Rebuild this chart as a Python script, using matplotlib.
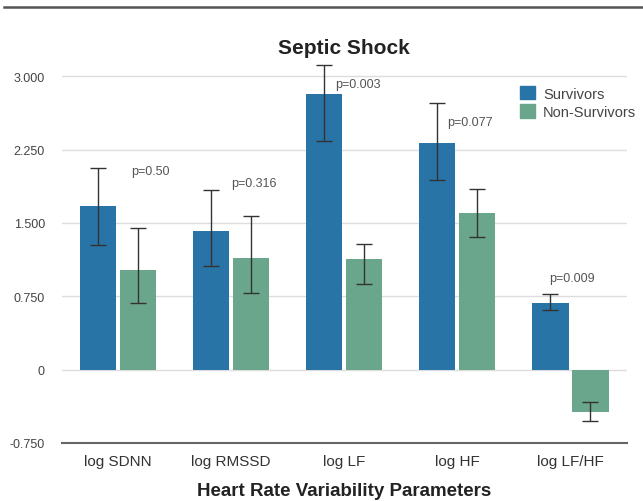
import matplotlib
matplotlib.use("Agg")
import matplotlib.pyplot as plt
import numpy as np
from matplotlib.lines import Line2D
from matplotlib.patches import Patch

plt.rcParams['font.family'] = ['Liberation Sans', 'DejaVu Sans']

# values
params = ["log SDNN", "log RMSSD", "log LF", "log HF", "log LF/HF"]
surv = [1.67, 1.42, 2.82, 2.32, 0.68]
surv_lo = [1.27, 1.06, 2.34, 1.94, 0.61]
surv_hi = [2.06, 1.84, 3.12, 2.73, 0.77]
nonsurv = [1.02, 1.14, 1.13, 1.60, -0.43]
nonsurv_lo = [0.68, 0.78, 0.88, 1.36, -0.52]
nonsurv_hi = [1.45, 1.57, 1.29, 1.85, -0.33]
pvals = ["p=0.50", "p=0.316", "p=0.003", "p=0.077", "p=0.009"]
yticks = [-0.75, 0, 0.75, 1.5, 2.25, 3.0]
ytick_labels = ["-0.750", "0", "0.750", "1.500", "2.250", "3.000"]

# label placement (x offset from group centre, y in data units)
p_dx = [0.12, 0.0, -0.08, -0.09, -0.19]
p_y = [2.03, 1.91, 2.92, 2.53, 0.94]

blue = "#2874a6"
green = "#6aa68b"

fig = plt.figure(figsize=(6.43, 5.02), dpi=100)
ax = fig.add_axes([61.5 / 643, 1 - 444 / 502, (627 - 61.5) / 643, 396 / 502])

x = np.arange(len(params))
w = 0.32
off = 0.177

surv = np.array(surv)
nonsurv = np.array(nonsurv)
s_err = [surv - np.array(surv_lo), np.array(surv_hi) - surv]
n_err = [nonsurv - np.array(nonsurv_lo), np.array(nonsurv_hi) - nonsurv]

ax.bar(x - off, surv, w, color=blue, zorder=2)
ax.bar(x + off, nonsurv, w, color=green, zorder=2)
ekw = dict(fmt="none", ecolor="#333333", elinewidth=1.0, capsize=5.5, capthick=1.0, zorder=3)
ax.errorbar(x - off, surv, yerr=s_err, **ekw)
ax.errorbar(x + off, nonsurv, yerr=n_err, **ekw)

for i, p in enumerate(pvals):
    ax.text(x[i] + p_dx[i], p_y[i], p, ha="left", va="center", fontsize=9, color="#555555")

ax.set_xlim(-0.5, 4.5)
ax.set_ylim(-0.75, 3.3)
ax.set_yticks(yticks)
ax.set_yticklabels(ytick_labels)
ax.set_xticks(x)
ax.set_xticklabels(params)
ax.tick_params(axis="both", length=0)
ax.tick_params(axis="y", labelsize=9, labelcolor="#444444", pad=12)
ax.tick_params(axis="x", labelsize=11, labelcolor="#333333", pad=8)
for sp in ["top", "right", "left"]:
    ax.spines[sp].set_visible(False)
ax.spines["bottom"].set_color("#666666")
ax.spines["bottom"].set_linewidth(1.5)
ax.set_axisbelow(True)
ax.grid(axis="y", color="#dddddd", linewidth=1)
ax.set_xlabel("Heart Rate Variability Parameters", fontsize=13.5, fontweight="bold",
              color="#222222", labelpad=10)

fig.text(344 / 643, 1 - 48 / 502, "Septic Shock", ha="center", va="center",
         fontsize=15, fontweight="bold", color="#222222")

handles = [Patch(color=blue, label="Survivors"), Patch(color=green, label="Non-Survivors")]
fig.legend(handles=handles, loc="upper left", bbox_to_anchor=(513 / 643, 1 - 80 / 502),
           frameon=False, fontsize=10.5, handlelength=1.0, handleheight=1.0,
           handletextpad=0.55, labelspacing=0.25, labelcolor="#444444", borderpad=0)

fig.add_artist(Line2D([0.006, 1.0], [1 - 7.5 / 502, 1 - 7.5 / 502], color="#555555", linewidth=1.8))

fig.savefig("out.png", dpi=100)
